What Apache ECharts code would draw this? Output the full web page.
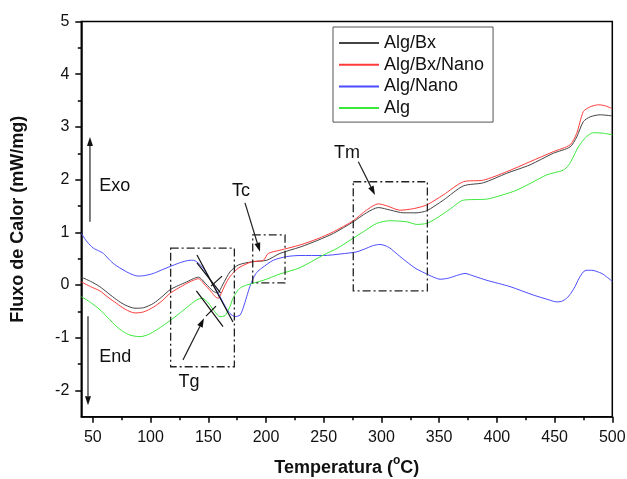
<!DOCTYPE html>
<html><head><meta charset="utf-8">
<script src="https://cdn.jsdelivr.net/npm/echarts@6/dist/echarts.min.js"></script>
<style>html,body{margin:0;padding:0;background:#fff}#c{width:627px;height:479px}</style>
</head><body><div id="c"></div>
<script>
// ---- data ----
const seriesNames = ['Alg/Bx', 'Alg/Bx/Nano', 'Alg/Nano', 'Alg'];
const xTickLabels = [50, 100, 150, 200, 250, 300, 350, 400, 450, 500];
const yTickLabels = [-2, -1, 0, 1, 2, 3, 4, 5];

const algBxT = [40,48,56,63,70.7,78,86.5,94,102.4,110,116.8,124,131.3,137,141.4,148,154.4,158,162.8,168.8,176,187.6,200.6,212.1,229.5,245,258.4,275.6,287,297.3,308,319,330,339.2,353.6,370.9,388.3,408.5,428.7,448.9,463.4,469.2,474.9,480.7,489.4,499.5];
const algBxV = [0.15,0.07,-0.03,-0.15,-0.28,-0.38,-0.44,-0.43,-0.35,-0.22,-0.09,-0.01,0.06,0.12,0.15,0.02,-0.12,-0.15,0.02,0.25,0.38,0.44,0.47,0.60,0.72,0.85,0.98,1.20,1.37,1.47,1.42,1.37,1.37,1.41,1.61,1.88,1.94,2.12,2.28,2.50,2.62,2.81,3.10,3.19,3.23,3.21];

const algBxNanoT = [40,48,56,63,70.7,78,86.5,94,102.4,110,116.8,124,131.3,137,141.4,148,153,156,158.7,161,164.5,168.8,176,187.6,197.7,202,212,229.5,245,258.4,275.6,287,297.3,305,316,328,339.2,353.6,371,388.3,408.5,428.7,448.9,463.4,469.2,474.9,480.7,488,494,499.5];
const algBxNanoV = [0.06,-0.03,-0.11,-0.23,-0.35,-0.46,-0.53,-0.51,-0.42,-0.30,-0.16,-0.06,0.03,0.09,0.12,-0.02,-0.14,-0.22,-0.25,-0.17,0.00,0.16,0.32,0.44,0.47,0.60,0.66,0.76,0.88,1.01,1.22,1.42,1.54,1.50,1.42,1.45,1.52,1.71,1.96,1.99,2.15,2.34,2.53,2.66,2.88,3.29,3.38,3.42,3.40,3.35];

const algNanoT = [40,45,50.4,55,59.1,63,67.7,73,79.3,84,89.4,95,102.4,110,116.8,125,134.2,137,140,145.7,153,160.2,165,168.8,173.2,177.5,180,183.3,186,189,192,196.3,206.3,218,229.5,249.7,265,278.6,287.3,293,298.8,303,307.4,314,321.9,330,339.2,345,350.8,358,365,372.4,380,391.2,411.4,431.6,445,451.8,456,460.5,464,467.7,471,474.9,478,482.1,490.8,496,500];
const algNanoV = [0.98,0.82,0.70,0.65,0.60,0.51,0.41,0.33,0.25,0.20,0.17,0.18,0.22,0.29,0.35,0.42,0.47,0.47,0.44,0.32,0.05,-0.22,-0.42,-0.54,-0.60,-0.57,-0.45,-0.22,-0.03,0.13,0.24,0.32,0.47,0.54,0.56,0.56,0.59,0.63,0.70,0.75,0.77,0.75,0.70,0.58,0.44,0.31,0.21,0.15,0.11,0.13,0.18,0.22,0.17,0.09,-0.03,-0.19,-0.28,-0.32,-0.31,-0.25,-0.16,-0.03,0.12,0.25,0.28,0.28,0.22,0.14,0.07];

const algT = [40,48,56.2,63,70.7,76,82.2,90.9,98,105.3,112,119.7,126,134,140,145,150,154.4,160.2,164.5,168.8,171,174.6,178,183.3,197.7,212.1,229.5,249.7,262,272.8,284.3,295.9,307.4,321.9,330.6,339.2,347.9,360,370.9,391.2,405,417.2,430,443.2,457.6,462,466.2,470,474.9,479,483.6,492.2,500];
const algV = [-0.22,-0.33,-0.47,-0.62,-0.79,-0.88,-0.95,-0.98,-0.94,-0.85,-0.75,-0.63,-0.52,-0.38,-0.28,-0.25,-0.34,-0.47,-0.60,-0.58,-0.41,-0.27,-0.13,-0.05,0.00,0.09,0.21,0.33,0.57,0.70,0.85,1.01,1.17,1.22,1.20,1.15,1.17,1.27,1.45,1.61,1.63,1.71,1.80,1.94,2.09,2.18,2.27,2.43,2.60,2.75,2.84,2.89,2.88,2.85];

const colors = ['#444444', '#ff3b3b', '#4b4bff', '#3be83b'];

// annotation positions in data units
const boxes = [[117.4, 0.70, 172.6, -1.55], [188.5, 0.95, 216.5, 0.04], [275.6, 1.96, 339.8, -0.11]];
const arrows = [[47.5, 1.20, 47.5, 2.81], [45.8, -0.59, 45.8, -2.28], [128.1, -1.42, 146.3, -0.63], [181.8, 1.56, 194.8, 0.63], [280.0, 2.34, 294.4, 1.71]];
const tangents = [[140.2, 0.57, 171.4, -0.70], [140.2, 0.42, 160.6, -0.15], [139.7, -0.11, 162.8, -0.79], [152.4, -0.02, 161.9, 0.17], [148.0, -0.59, 156.7, -0.40]];
const labels = [['Exo', 55.5, 1.88, 'left'], ['End', 55.5, -1.37, 'left'], ['Tg', 133.3, -1.84, 'center'], ['Tc', 178.4, 1.78, 'center'], ['Tm', 270.2, 2.50, 'center']];

const zip = (t, v) => t.map((x, i) => [x, v[i]]);
const dataSets = [zip(algBxT, algBxV), zip(algBxNanoT, algBxNanoV), zip(algNanoT, algNanoV), zip(algT, algV)];

const FONT = 'Liberation Sans, Arial, sans-serif';
const chart = echarts.init(document.getElementById('c'), null, {renderer: 'canvas'});
const minorX = [75,125,175,225,275,325,375,425,475];
const minorY = [-1.5,-0.5,0.5,1.5,2.5,3.5,4.5];

const option = {
  backgroundColor: '#fff',
  animation: false,
  grid: {left: 81.3, right: 14.7, top: 21.5, bottom: 62.2, show: true, borderColor: '#000', borderWidth: 1.5,
    backgroundColor: 'transparent', containLabel: false, outerBoundsMode: 'none'},
  legend: {
    orient: 'vertical', left: 333, top: 27,
    data: seriesNames,
    itemWidth: 40, itemHeight: 14, itemGap: 3.7,
    padding: [7, 9, 5, 5],
    borderColor: '#555', borderWidth: 1, backgroundColor: '#fff',
    itemStyle: {opacity: 0},
    textStyle: {fontSize: 18, fontFamily: FONT, color: '#111', lineHeight: 18, padding: [0, 0, 0, 0]},
    selectedMode: false
  },
  xAxis: [{
    type: 'value', min: 40, max: 500,
    axisLine: {show: true, onZero: false, lineStyle: {color: '#000', width: 1.5}},
    axisTick: {show: true, customValues: xTickLabels, length: 6, inside: false, lineStyle: {color: '#000', width: 1.5}},
    axisLabel: {customValues: xTickLabels, fontSize: 16, fontFamily: FONT, color: '#111', margin: 13},
    splitLine: {show: false},
    name: '{n|Temperatura (}{sup|o}{n|C)}', nameLocation: 'middle', nameGap: 38,
    nameTextStyle: {fontSize: 18, fontWeight: 'bold', fontFamily: FONT, color: '#111',
      rich: {
        n: {fontSize: 18, fontWeight: 'bold', fontFamily: FONT, color: '#111', lineHeight: 22, verticalAlign: 'bottom'},
        sup: {fontSize: 12, fontWeight: 'bold', fontFamily: FONT, color: '#111', lineHeight: 12, verticalAlign: 'top'}
      }}
  }, {
    type: 'value', min: 40, max: 500, position: 'bottom',
    axisLine: {show: false, onZero: false},
    axisTick: {show: true, customValues: minorX, length: 3.5, lineStyle: {color: '#000', width: 1.5}},
    axisLabel: {show: false}, splitLine: {show: false}
  }],
  yAxis: [{
    type: 'value', min: -2.5, max: 5,
    axisLine: {show: true, onZero: false, lineStyle: {color: '#000', width: 1.5}},
    axisTick: {show: true, customValues: yTickLabels, length: 6, lineStyle: {color: '#000', width: 1.5}},
    axisLabel: {customValues: yTickLabels, fontSize: 16, fontFamily: FONT, color: '#111', margin: 12},
    splitLine: {show: false},
    name: 'Fluxo de Calor (mW/mg)', nameLocation: 'middle', nameGap: 54, nameRotate: 90,
    nameTextStyle: {fontSize: 18, fontWeight: 'bold', fontFamily: FONT, color: '#111'}
  }, {
    type: 'value', min: -2.5, max: 5, position: 'left',
    axisLine: {show: false, onZero: false},
    axisTick: {show: true, customValues: minorY, length: 3.5, lineStyle: {color: '#000', width: 1.5}},
    axisLabel: {show: false}, splitLine: {show: false}
  }],
  series: seriesNames.map((n, i) => ({
    name: n, type: 'line', data: dataSets[i], symbol: 'none', smooth: 0.25,
    xAxisIndex: 0, yAxisIndex: 0,
    lineStyle: {color: colors[i], width: 1}, itemStyle: {color: colors[i]}, z: 3
  }))
};
chart.setOption(option);

function px(x, y) { return chart.convertToPixel({xAxisIndex: 0, yAxisIndex: 0}, [x, y]); }
const g = [];
const dash = [8, 3, 2, 3];
boxes.forEach(b => {
  const p1 = px(b[0], b[1]), p2 = px(b[2], b[3]);
  g.push({type: 'rect', shape: {x: p1[0], y: p1[1], width: p2[0] - p1[0], height: p2[1] - p1[1]},
    style: {fill: 'none', stroke: '#222', lineWidth: 1.3, lineDash: dash}, z: 10});
});
tangents.forEach(t => {
  const a = px(t[0], t[1]), b = px(t[2], t[3]);
  g.push({type: 'line', shape: {x1: a[0], y1: a[1], x2: b[0], y2: b[1]}, style: {stroke: '#111', lineWidth: 1.2}, z: 10});
});
arrows.forEach(t => {
  const a = px(t[0], t[1]), b = px(t[2], t[3]);
  const dx = b[0] - a[0], dy = b[1] - a[1], L = Math.hypot(dx, dy);
  const ux = dx / L, uy = dy / L, hl = 9, hw = 3;
  const bx = b[0] - ux * hl, by = b[1] - uy * hl;
  g.push({type: 'line', shape: {x1: a[0], y1: a[1], x2: bx, y2: by}, style: {stroke: '#222', lineWidth: 1.2}, z: 10});
  g.push({type: 'polygon', shape: {points: [[b[0], b[1]], [bx - uy * hw, by + ux * hw], [bx + uy * hw, by - ux * hw]]}, style: {fill: '#111'}, z: 10});
});
labels.forEach(l => {
  const p = px(l[1], l[2]);
  g.push({type: 'text', x: p[0], y: p[1], style: {text: l[0], font: '18px ' + FONT, fill: '#111', align: l[3], verticalAlign: 'middle'}, z: 11});
});
chart.setOption({graphic: g});
</script>
</body></html>
